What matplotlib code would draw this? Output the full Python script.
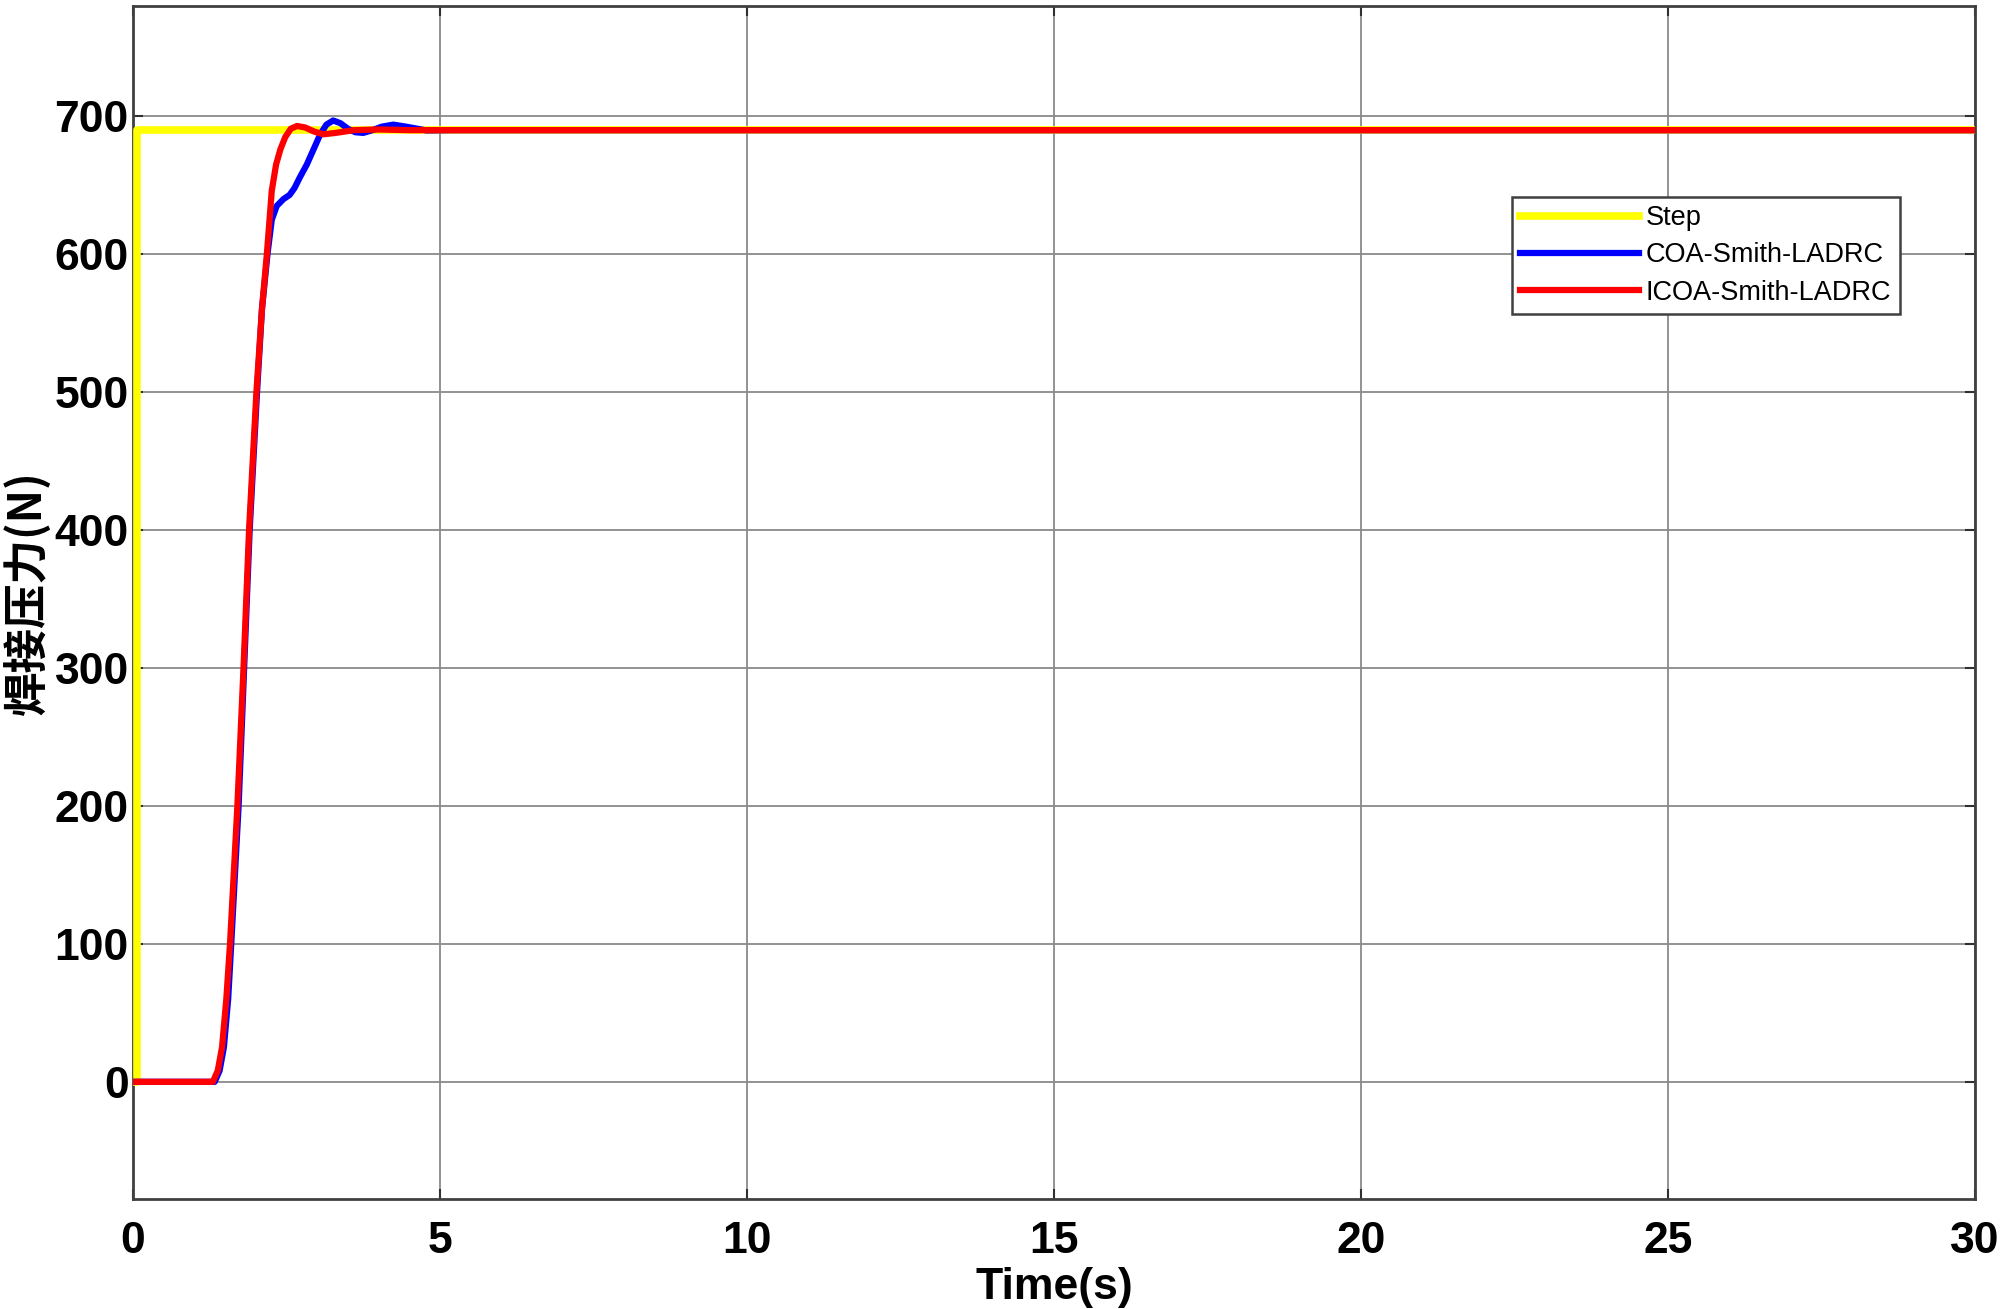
import matplotlib
matplotlib.use("Agg")
import matplotlib.pyplot as plt

# ---- data ----
step_t = [0, 0.07, 0.07, 30]
step_y = [0, 0, 690, 690]

coa_t = [0, 1.33, 1.41, 1.48, 1.55, 1.60, 1.66, 1.72, 1.81, 1.90, 2.02, 2.10, 2.19,
         2.26, 2.34, 2.45, 2.55, 2.63, 2.72, 2.83, 2.95, 3.05, 3.15, 3.26, 3.38,
         3.50, 3.62, 3.75, 3.90, 4.05, 4.24, 4.45, 4.78, 5.2, 30]
coa_y = [0, 0, 8, 25, 60, 100, 150, 200, 300, 400, 500, 560, 600,
         625, 635, 640, 643, 648, 656, 665, 677, 687, 694, 697, 695,
         691, 688.5, 688, 690, 692.5, 694, 692.5, 689.8, 690, 690]

icoa_t = [0, 1.30, 1.38, 1.45, 1.52, 1.58, 1.64, 1.70, 1.80, 1.89, 2.01, 2.10, 2.18,
          2.26, 2.33, 2.40, 2.48, 2.57, 2.67, 2.80, 2.95, 3.10, 3.30, 3.60, 4.00, 4.50, 30]
icoa_y = [0, 0, 8, 25, 60, 100, 150, 200, 300, 400, 500, 560, 600,
          646, 665, 676, 685, 691, 693, 692, 689, 687, 688, 690, 690.5, 690, 690]

labels = ["Step", "COA-Smith-LADRC", "ICOA-Smith-LADRC"]
xticks = [0, 5, 10, 15, 20, 25, 30]
yticks = [0, 100, 200, 300, 400, 500, 600, 700]

# ---- figure ----
fig = plt.figure(figsize=(20, 13.09), dpi=100)
ax = fig.add_axes([0.0665, 0.084, 0.921, 0.9114])

ax.plot(step_t, step_y, color="#ffff00", lw=5.5, label=labels[0], zorder=3)
ax.plot(coa_t, coa_y, color="#0000ff", lw=4.5, label=labels[1], zorder=4)
ax.plot(icoa_t, icoa_y, color="#ff0000", lw=4.5, label=labels[2], zorder=5)

ax.set_xlim(0, 30)
ax.set_ylim(-85, 780)
ax.set_xticks(xticks)
ax.set_yticks(yticks)
ax.grid(True, color="#8a8a8a", lw=1.3)
ax.set_axisbelow(True)

for s in ax.spines.values():
    s.set_color("#404040")
    s.set_linewidth(2.0)

ax.tick_params(direction="in", length=7, width=1.5, color="#303030",
               top=True, right=True)
ax.tick_params(axis="y", pad=3)
ax.tick_params(axis="x", pad=16)
for lab in ax.get_xticklabels() + ax.get_yticklabels():
    lab.set_fontfamily("Liberation Sans")
    lab.set_fontweight("bold")
    lab.set_fontsize(32)

ax.set_xlabel("Time(s)", fontfamily="Liberation Sans", fontweight="bold", fontsize=32)
ax.xaxis.set_label_coords(0.5, -0.057)
ax.xaxis.label.set_va("top")

ax.set_ylabel("焊接压力(N)", family=["Noto Sans CJK SC", "DejaVu Sans"],
              fontweight="bold", fontsize=32)
ax.yaxis.set_label_coords(-0.044, 0.508)

leg = ax.legend(loc="upper left", bbox_to_anchor=(0.7486, 0.840), borderaxespad=0,
                fancybox=False, framealpha=1, edgecolor="#404040",
                prop={"family": "Liberation Sans", "size": 19.5},
                handlelength=4.4, handletextpad=0.25, labelspacing=0.42,
                borderpad=0.3)
leg.get_frame().set_linewidth(1.8)

fig.savefig("out.png", dpi=100)
